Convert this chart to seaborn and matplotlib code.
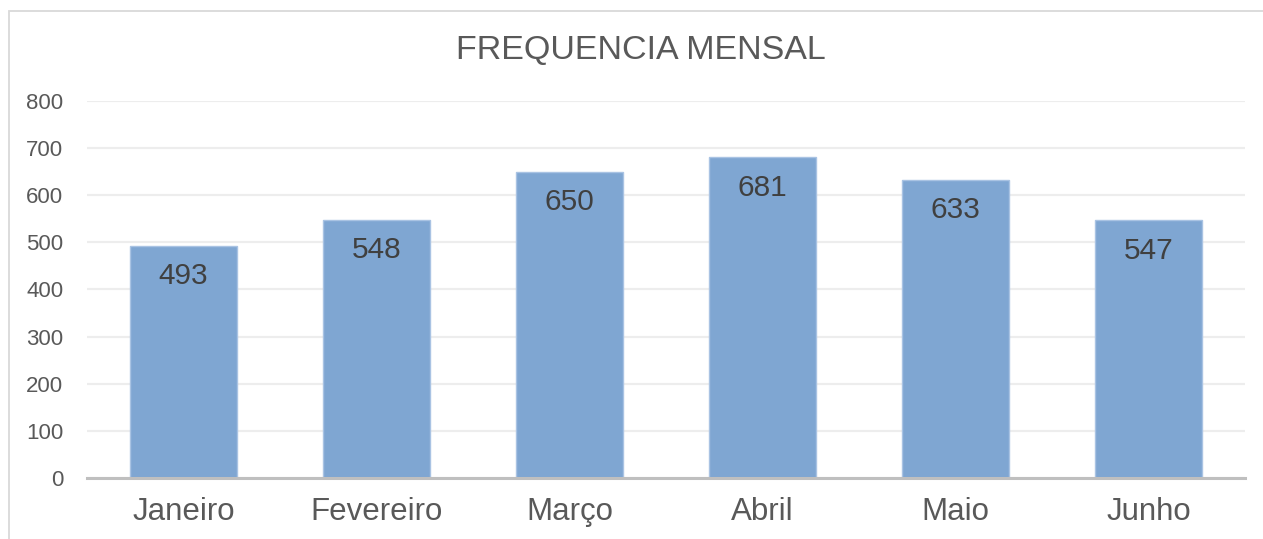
import matplotlib
matplotlib.use("Agg")
import matplotlib.pyplot as plt
import seaborn as sns
import pandas as pd
from matplotlib.patches import Rectangle

# data
months = ["Janeiro", "Fevereiro", "Março", "Abril", "Maio", "Junho"]
frequencia = [493, 548, 650, 681, 633, 547]
y_ticks = [0, 100, 200, 300, 400, 500, 600, 700, 800]

df = pd.DataFrame({"Mes": months, "Frequencia": frequencia})

sns.set_theme(style="white")
plt.rcParams["font.family"] = ["Liberation Sans", "DejaVu Sans"]

fig = plt.figure(figsize=(12.63, 5.39), dpi=100)
ax = fig.add_axes([0.0689, 0.1132, 0.9857 - 0.0689, 0.8126 - 0.1132])

sns.barplot(data=df, x="Mes", y="Frequencia", color="#7FA6D2", saturation=1,
            width=0.555, edgecolor="#A9C3E3", linewidth=1, ax=ax, zorder=3)

ax.set_ylim(0, 800)
ax.set_xlim(-0.5, len(months) - 0.5)
ax.set_yticks(y_ticks)
ax.set_xlabel("")
ax.set_ylabel("")

ax.yaxis.grid(True, color="#EDEDED", linewidth=1.6, zorder=0)
ax.xaxis.grid(False)
for side in ["top", "right", "left"]:
    ax.spines[side].set_visible(False)
ax.spines["bottom"].set_color("#BFBFBF")
ax.spines["bottom"].set_linewidth(2.2)
ax.spines["bottom"].set_zorder(4)

ax.tick_params(axis="x", length=0, pad=14, labelsize=22.5, labelcolor="#595959")
ax.tick_params(axis="y", length=0, pad=17, labelsize=16, labelcolor="#595959")

# value labels inside the bars
for i, v in enumerate(frequencia):
    ax.annotate(str(v), xy=(i, v), xytext=(0, -22), textcoords="offset points",
                ha="center", va="center", fontsize=21.5, color="#404040", zorder=5)

fig.text(0.5075, 0.907, "FREQUENCIA MENSAL", ha="center", va="center",
         fontsize=24.5, color="#595959")

# light chart frame
fig.patches.append(Rectangle((9 / 1263, -0.2), 1.2, 1.2 - 11 / 539,
                             transform=fig.transFigure, fill=False,
                             edgecolor="#D9D9D9", linewidth=1.3))

fig.savefig("out.png", dpi=100)
